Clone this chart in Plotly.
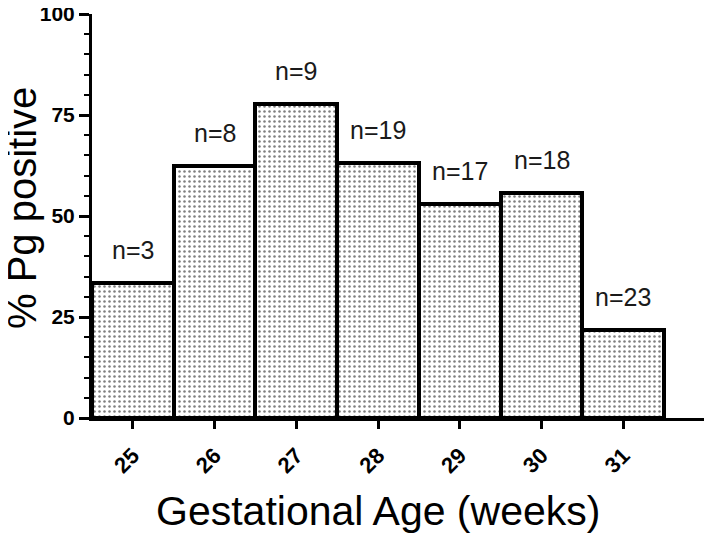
import plotly.graph_objects as go

weeks = [25, 26, 27, 28, 29, 30, 31]
pct_positive = [33.3, 62.5, 77.8, 63.2, 52.9, 55.6, 21.7]
n_labels = ["n=3", "n=8", "n=9", "n=19", "n=17", "n=18", "n=23"]
x_tickvals = [25, 26, 27, 28, 29, 30, 31, 32]
x_ticktext = ["25", "26", "27", "28", "29", "30", "31", ""]
y_tickvals = [0, 25, 50, 75, 100]

FONT = "Arial, Liberation Sans, sans-serif"

fig = go.Figure()
fig.add_trace(go.Bar(
    x=weeks, y=pct_positive, width=1,
    marker=dict(
        color="white",
        line=dict(color="black", width=4),
        pattern=dict(shape=".", fgcolor="#000", bgcolor="white", size=5, solidity=0.2, fillmode="overlay"),
    ),
    hoverinfo="skip",
))

for w, v, t in zip(weeks, pct_positive, n_labels):
    fig.add_annotation(x=w, y=v, xref="x", yref="y", text=t, showarrow=False,
                       yanchor="bottom", yshift=17,
                       font=dict(family=FONT, size=25, color="#1a1a1a"))

fig.add_annotation(x=28, y=0, xref="x", yref="paper", text="Gestational Age (weeks)",
                   showarrow=False, yanchor="middle", yshift=-93,
                   font=dict(family=FONT, size=41, color="black"))
fig.add_annotation(x=0, y=0.5, xref="paper", yref="paper", text="% Pg positive",
                   showarrow=False, textangle=-90, xanchor="center", yanchor="middle",
                   xshift=-70, yshift=8,
                   font=dict(family=FONT, size=40, color="black"))

fig.update_layout(
    width=704, height=529,
    margin=dict(l=84, r=7, t=6, b=119, autoexpand=False),
    paper_bgcolor="white", plot_bgcolor="white",
    showlegend=False,
    bargap=0,
    xaxis=dict(
        range=[24.5, 32], tickvals=x_tickvals, ticktext=x_ticktext, automargin=False,
        tickangle=-45, ticks="outside", ticklen=8, tickwidth=3, tickcolor="black",
        showline=True, linewidth=3, linecolor="black", showgrid=False, zeroline=False,
        tickfont=dict(family=FONT, size=22, color="black", weight="bold"),
        ticklabelstandoff=5,
    ),
    yaxis=dict(
        range=[0, 100], tickvals=y_tickvals, ticks="outside", ticklen=10, tickwidth=3,
        tickcolor="black", showline=True, linewidth=3, linecolor="black", automargin=False,
        showgrid=False, zeroline=False, ticklabeloverflow="allow",
        tickfont=dict(family=FONT, size=21, color="black", weight="bold"),
        minor=dict(dtick=5, ticks="outside", ticklen=5, tickwidth=2, tickcolor="black", showgrid=False),
    ),
)

fig.write_html("out.html")
